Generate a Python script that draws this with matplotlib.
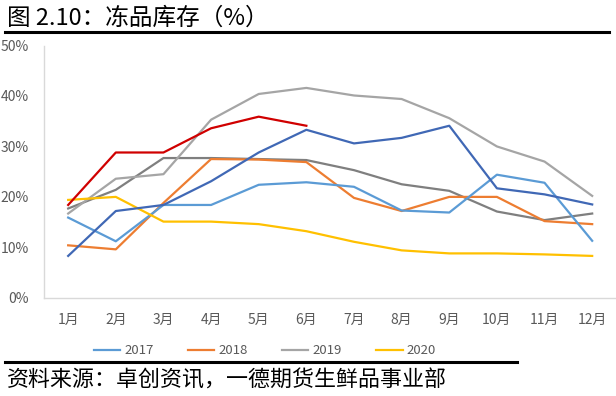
import matplotlib.pyplot as plt
from matplotlib.lines import Line2D
from matplotlib.ticker import FuncFormatter

plt.rcParams['font.family'] = ['Noto Sans CJK SC', 'DejaVu Sans']

months = ['1月', '2月', '3月', '4月', '5月', '6月', '7月', '8月', '9月', '10月', '11月', '12月']

# inventory ratio (%)
y2017 = [15.9, 11.2, 18.4, 18.4, 22.4, 22.9, 22.0, 17.3, 16.9, 24.4, 22.8, 11.3]
y2018 = [10.4, 9.6, 18.8, 27.5, 27.4, 26.9, 19.8, 17.2, 20.0, 20.0, 15.2, 14.6]
y2019 = [16.7, 23.6, 24.5, 35.3, 40.4, 41.6, 40.1, 39.4, 35.6, 30.0, 27.0, 20.2]
y2020 = [19.4, 20.0, 15.1, 15.1, 14.6, 13.2, 11.1, 9.4, 8.8, 8.8, 8.6, 8.3]
# extra series without a legend entry
dark_blue = [8.3, 17.2, 18.4, 23.1, 28.8, 33.3, 30.6, 31.7, 34.1, 21.7, 20.5, 18.5]
dark_gray = [17.7, 21.4, 27.7, 27.7, 27.5, 27.3, 25.3, 22.5, 21.2, 17.1, 15.4, 16.7]
red = [18.4, 28.8, 28.8, 33.6, 35.9, 34.1]

fig = plt.figure(figsize=(6.16, 3.96), dpi=100)
ax = fig.add_axes([0.072, 0.248, 0.928, 0.637])

x = list(range(len(months)))
lw = 1.6
ax.plot(x, dark_gray, color='#7F7F7F', lw=lw)
ax.plot(x, y2019, color='#A5A5A5', lw=lw, label='2019')
ax.plot(x, y2018, color='#ED7D31', lw=lw, label='2018')
ax.plot(x, y2017, color='#5B9BD5', lw=lw, label='2017')
ax.plot(x, y2020, color='#FFC000', lw=lw, label='2020')
ax.plot(x, dark_blue, color='#4068B5', lw=lw)
ax.plot(range(len(red)), red, color='#D00000', lw=lw)

ax.set_xlim(-0.5, 11.5)
ax.set_ylim(0, 50)
ax.set_yticks([0, 10, 20, 30, 40, 50])
ax.yaxis.set_major_formatter(FuncFormatter(lambda v, p: f'{v:.0f}%'))
ax.set_xticks(x)
ax.set_xticklabels(months)
ax.tick_params(axis='both', length=0, labelsize=10, colors='#595959')
ax.tick_params(axis='x', pad=11)
ax.tick_params(axis='y', pad=11)
for s in ['top', 'right']:
    ax.spines[s].set_visible(False)
for s in ['left', 'bottom']:
    ax.spines[s].set_color('#D9D9D9')
    ax.spines[s].set_linewidth(1.0)

handles, labels = ax.get_legend_handles_labels()
order = [labels.index(k) for k in ['2017', '2018', '2019', '2020']]
fig.legend([handles[i] for i in order], [labels[i] for i in order],
           loc='center', bbox_to_anchor=(0.43, 0.114), ncol=4, frameon=False,
           fontsize=9.5, handlelength=2.0, columnspacing=2.6, handletextpad=0.3,
           labelcolor='#595959')

fig.text(0.011, 0.953, '图 2.10：冻品库存（%）', fontsize=17, va='center', ha='left')
fig.add_artist(Line2D([0.008, 0.988], [0.918, 0.918], color='black', lw=2.2))
fig.add_artist(Line2D([0.008, 0.84], [0.086, 0.086], color='black', lw=2.2))
fig.text(0.011, 0.04, '资料来源：卓创资讯，一德期货生鲜品事业部', fontsize=15.8, va='center', ha='left')

fig.savefig('out.png', dpi=100)
